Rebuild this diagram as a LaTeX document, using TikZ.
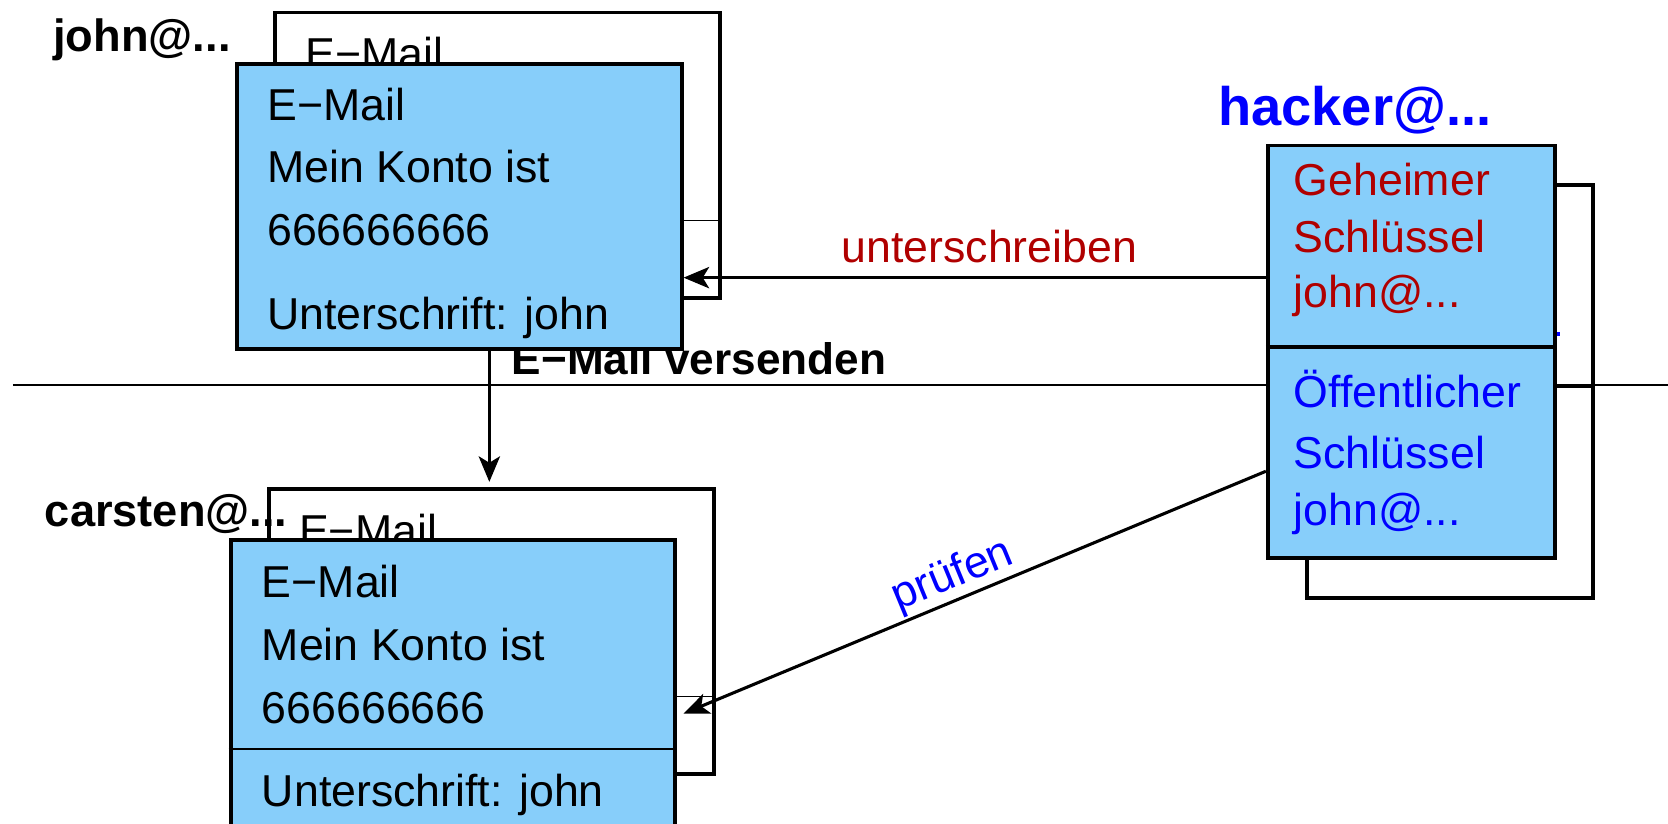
\documentclass[tikz,border=0pt]{standalone}
\usepackage{fontspec}
\setmainfont{Liberation Sans}
\usetikzlibrary{arrows.meta}
\definecolor{boxfill}{RGB}{135,206,250}
\definecolor{keyred}{RGB}{176,0,0}
\definecolor{keyblue}{RGB}{0,0,255}

\begin{document}
\begin{tikzpicture}[x=1pt, y=-1pt,
  mailbox/.style={rectangle, draw=black, line width=3.6pt, fill=boxfill,
    inner sep=0pt, anchor=north west, minimum width=418pt, minimum height=268pt},
  backbox/.style={mailbox, fill=white},
  keybox/.style={rectangle, draw=black, line width=3.6pt, fill=boxfill,
    inner sep=0pt, anchor=north west, minimum width=270pt, minimum height=388pt},
  keyback/.style={keybox, fill=white, minimum width=269pt},
  body/.style={font=\fontsize{42}{50}\selectfont, inner sep=0pt, anchor=base west},
  who/.style={font=\bfseries\fontsize{42.5}{48}\selectfont, inner sep=0pt, anchor=base west},
  sendlabel/.style={font=\bfseries\fontsize{41.5}{48}\selectfont, inner sep=0pt, anchor=base west},
  thinsep/.style={line width=1.3pt},
  midsep/.style={line width=2.4pt},
  keysep/.style={line width=3.6pt},
  divider/.style={line width=1.6pt},
  arr/.style={line width=2.9pt, -{Stealth[length=24pt, width=20pt, inset=6pt]}}
]
\useasboundingbox (0,0) rectangle (1568,774);
\clip (0,0) rectangle (1568,774);

% dividing line between sender and receiver
\coordinate (divL) at (12,362);
\coordinate (divR) at (1568,362);
\draw[divider] (divL) -- (divR);

% caption of the send arrow, partly under the sender's box
\node[sendlabel] (sendlbl) at (481,352) {E−Mail versenden};

% sender: rear copy of the mail
\node[backbox] (johnB) at (257,10) {};
\draw[thinsep] ([yshift=-197pt]johnB.north west) -- ([yshift=-197pt]johnB.north east);
\node[body] (johnBt) at (287,65) {E−Mail};

% sender: front copy of the mail
\node[mailbox] (johnF) at (221,58) {};
\node[body] (johnF1) at (251,113) {E−Mail};
\node[body] (johnF2) at (251,172) {Mein Konto ist};
\node[body] (johnF3) at (251,231) {666666666};
\node[body] (johnF4) at (251,310) {Unterschrift: john};

% receiver: rear copy of the mail
\node[backbox] (carB) at (251,458) {};
\draw[thinsep] ([yshift=-197pt]carB.north west) -- ([yshift=-197pt]carB.north east);
\node[body] (carBt) at (281,514) {E−Mail};

% receiver: front copy of the mail
\node[mailbox, minimum height=326pt] (carF) at (215,506) {};
\draw[midsep] ([yshift=-198pt]carF.north west) -- ([yshift=-198pt]carF.north east);
\node[body] (carF1) at (246,562) {E−Mail};
\node[body] (carF2) at (246,621) {Mein Konto ist};
\node[body] (carF3) at (246,680) {666666666};
\node[body] (carF4) at (246,758) {Unterschrift: john};

% key pair: rear copy
\node[keyback] (hackB) at (1227,172) {};
\draw[keysep] ([yshift=-191pt]hackB.north west) -- ([yshift=-191pt]hackB.north east);
\fill[keyblue] (1462,312) rectangle (1466,316);

% key pair: front copy
\node[keybox] (hackF) at (1190,135) {};
\draw[keysep] ([yshift=-191pt]hackF.north west) -- ([yshift=-191pt]hackF.north east);
\node[body, text=keyred] (sec1) at (1216,184) {Geheimer};
\node[body, text=keyred] (sec2) at (1216,237) {Schlüssel};
\node[body, text=keyred] (sec3) at (1216,289) {john@...};
\node[body, text=keyblue] (pub1) at (1216,383) {Öffentlicher};
\node[body, text=keyblue] (pub2) at (1216,440) {Schlüssel};
\node[body, text=keyblue] (pub3) at (1216,494) {john@...};

% owners
\node[who] (john) at (50,48) {john@...};
\node[who] (carsten) at (42,495) {carsten@...};
\node[who, text=keyblue, font=\bfseries\fontsize{51}{58}\selectfont] (hacker) at (1145,118) {hacker@...};

% signing
\coordinate (signY) at (0,261);
\draw[arr] (hackF.west |- signY) -- (johnF.east |- signY)
  node[pos=0.475, above=12pt, inner sep=0pt, text=keyred, font=\fontsize{42}{50}\selectfont] (signlbl) {unterschreiben};

% sending
\coordinate (sendX) at (460,0);
\draw[arr, shorten >=5pt] (johnF.south -| sendX) -- (carB.north -| sendX);

% checking
\coordinate (chkY) at (0,443);
\draw[arr] (hackF.west |- chkY) -- ([xshift=6pt]carF.east)
  node[pos=0.522, anchor=south, rotate=22.4, inner sep=1pt, text=keyblue, font=\fontsize{42}{50}\selectfont] (chklbl) {prüfen};
\end{tikzpicture}
\end{document}
